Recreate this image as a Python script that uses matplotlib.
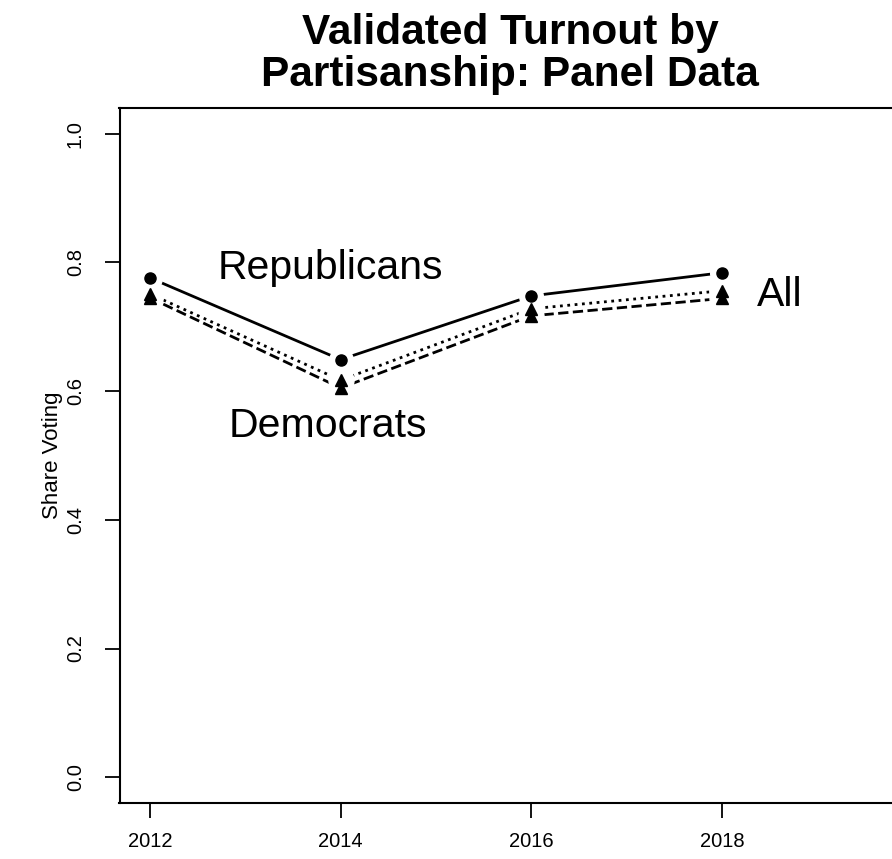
import numpy as np
import matplotlib
matplotlib.use("Agg")
import matplotlib.pyplot as plt

plt.rcParams['font.family'] = ['Liberation Sans', 'DejaVu Sans']

years = [2012, 2014, 2016, 2018]
republicans = [0.776, 0.649, 0.748, 0.784]
all_voters = [0.751, 0.617, 0.728, 0.756]
democrats = [0.745, 0.605, 0.717, 0.744]

yticks = [0.0, 0.2, 0.4, 0.6, 0.8, 1.0]

fig = plt.figure(figsize=(8.92, 8.59), dpi=100)
W, H = 892, 859
# plot box: left ~120px, extends past right edge of figure
ax = fig.add_axes([119.5 / W, 56 / H, (943 - 119.5) / W, (803 - 108) / H])
ax.set_xlim(2011.68, 2020.32)
ax.set_ylim(-0.04, 1.04)

series = [
    (republicans, '-', 'o', 8),
    (all_voters, ':', '^', 9),
    (democrats, '--', '^', 9),
]

# lines first, then white halos (R type="b" gaps), then markers
for vals, ls, mk, ms in series:
    ax.plot(years, vals, color='black', linestyle=ls, linewidth=2, zorder=2)
for vals, ls, mk, ms in series:
    ax.plot(years, vals, linestyle='none', marker='o', markersize=ms + 9,
            color='white', zorder=3)
for vals, ls, mk, ms in series:
    ax.plot(years, vals, linestyle='none', marker=mk, markersize=ms,
            color='black', zorder=4)

ax.text(2013.89, 0.775, 'Republicans', fontsize=29.5, ha='center', va='baseline')
ax.text(2013.87, 0.528, 'Democrats', fontsize=29.5, ha='center', va='baseline')
ax.text(2018.61, 0.733, 'All', fontsize=29.5, ha='center', va='baseline')

ax.set_xticks(years)
ax.set_xticklabels([str(y) for y in years])
ax.set_yticks(yticks)
ax.set_yticklabels([f'{t:.1f}' for t in yticks], rotation=90, va='center')
ax.tick_params(direction='out', length=11, width=1.3, labelsize=14.5, pad=10)
ax.tick_params(axis='y', pad=14)
for s in ax.spines.values():
    s.set_linewidth(1.5)

ax.set_ylabel('Share Voting', fontsize=16, labelpad=2)

fig.text(510 / W, 1 - 44 / H, 'Validated Turnout by',
         ha='center', va='baseline', fontsize=30.5, fontweight='bold')
fig.text(510 / W, 1 - 86 / H, 'Partisanship: Panel Data',
         ha='center', va='baseline', fontsize=30.5, fontweight='bold')

fig.savefig('out.png', dpi=100)
